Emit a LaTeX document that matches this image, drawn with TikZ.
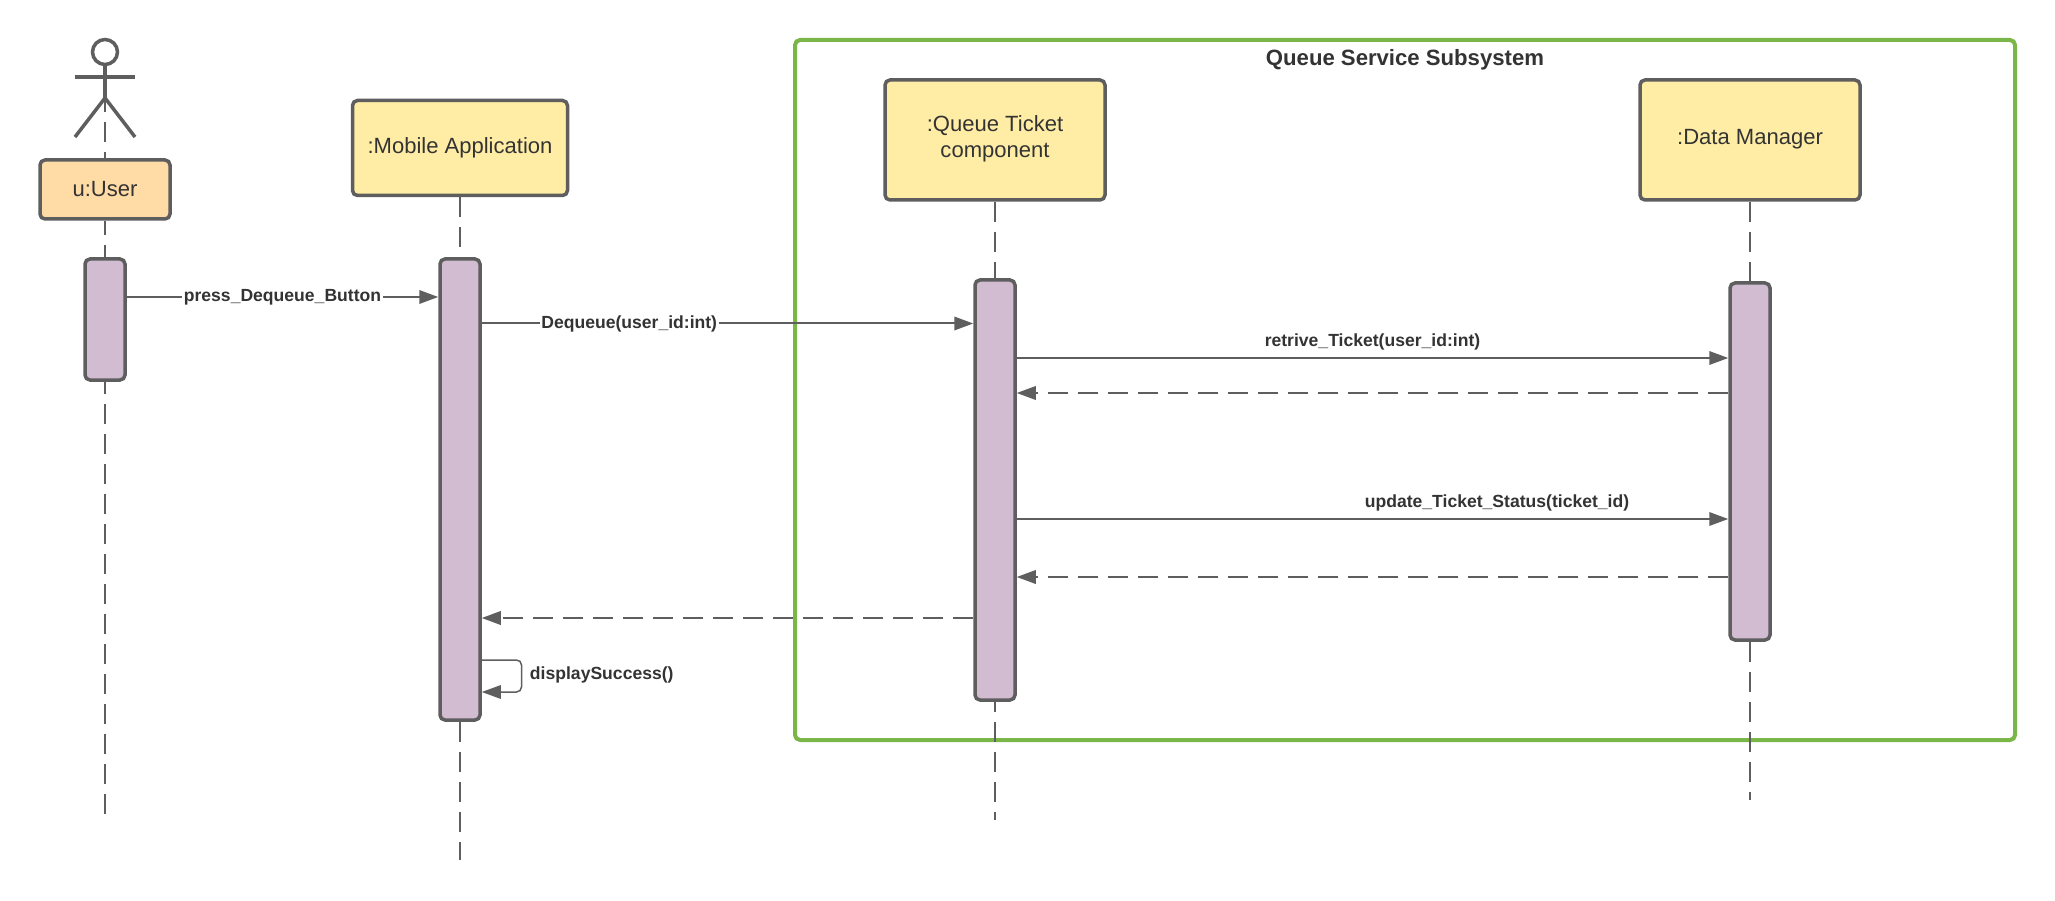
\documentclass[tikz,border=0pt]{standalone}
\usepackage{fontspec}
\setmainfont{Liberation Sans}
\usetikzlibrary{arrows.meta,positioning}
\definecolor{strokegrey}{HTML}{5E5E5E}
\definecolor{textgrey}{HTML}{333333}
\definecolor{framegreen}{HTML}{7AB648}
\definecolor{boxyellow}{HTML}{FFEDA6}
\definecolor{boxorange}{HTML}{FFDBA6}
\definecolor{barpurple}{HTML}{D1BCD2}
\tikzset{
	objbox/.style={draw=strokegrey, line width=0.035cm, rounded corners=0.05cm, fill=boxyellow, text=textgrey, font=\fontsize{6.27}{7.5}\selectfont, align=center, inner sep=0pt},
	bar/.style={draw=strokegrey, line width=0.035cm, rounded corners=0.05cm, fill=barpurple, minimum width=0.4cm, inner sep=0pt},
	lifeline/.style={draw=strokegrey, line width=0.02cm, dash pattern=on 0.2cm off 0.1cm},
	msg/.style={draw=strokegrey, line width=0.02cm, -{Triangle[length=0.19cm,width=0.135cm]}},
	reply/.style={msg, dash pattern=on 0.2cm off 0.1cm},
	msglabel/.style={font=\fontsize{5}{6}\selectfont\bfseries, text=textgrey, inner sep=0.5pt},
	actorline/.style={draw=strokegrey, line width=0.035cm}
}

\begin{document}
\begin{tikzpicture}
	%%%%% START %%%%%
	\useasboundingbox (0, 0) rectangle (20.55, 9);

	% subsystem frame
	\node[draw=framegreen, line width=0.04cm, rounded corners=0.05cm, minimum width=12.2cm, minimum height=7cm, inner sep=0pt] (subsystem) at (14.05, 5.1) {};
	\node[font=\fontsize{6.3}{7.5}\selectfont\bfseries, text=textgrey] (subsystemTitle) at (14.05, 8.4) {Queue Service Subsystem};

	% where the lifelines stop
	\coordinate (userEnd) at (1.05, 0.8);
	\coordinate (mobileEnd) at (4.6, 0.4);
	\coordinate (queueEnd) at (9.95, 0.8);
	\coordinate (dataEnd) at (17.5, 1);

	% actor
	\node[circle, draw=strokegrey, line width=0.035cm, minimum size=0.25cm, inner sep=0pt] (userHead) at (1.05, 8.48) {};
	\coordinate (userHip) at (1.05, 8.02);
	\coordinate (userArmL) at (0.75, 8.23);
	\coordinate (userArmR) at (1.35, 8.23);
	\coordinate (userFootL) at (0.75, 7.63);
	\coordinate (userFootR) at (1.35, 7.63);

	% boxes
	\node[objbox, fill=boxorange, minimum width=1.3cm, minimum height=0.59cm] (user) at (1.05, 7.105) {u:User};
	\node[objbox, minimum width=2.15cm, minimum height=0.95cm] (mobile) at (4.6, 7.52) {:Mobile Application};
	\node[objbox, text depth=0.07cm, minimum width=2.2cm, minimum height=1.2cm] (queue) at (9.95, 7.6) {:Queue Ticket\\component};
	\node[objbox, text depth=0.07cm, minimum width=2.2cm, minimum height=1.2cm] (data) at (17.5, 7.6) {:Data Manager};

	% activation bars
	\node[bar, minimum height=1.21cm] (userBar) at (1.05, 5.805) {};
	\node[bar, minimum height=4.61cm] (mobileBar) at (4.6, 4.105) {};
	\node[bar, minimum height=4.2cm] (queueBar) at (9.95, 4.1) {};
	\node[bar, minimum height=3.57cm] (dataBar) at (17.5, 4.385) {};

	% lifelines
	\draw[lifeline, dash phase=0.06cm] (userHip) -- (user.north);
	\draw[lifeline, dash phase=0.06cm] (user.south) -- (userBar.north);
	\draw[lifeline, dash phase=0.08cm] (userBar.south) -- (userEnd);
	\draw[lifeline] (mobile.south) -- (mobileBar.north);
	\draw[lifeline] (mobileBar.south) -- (mobileEnd);
	\draw[lifeline] (queue.south) -- (queueBar.north);
	\draw[lifeline, dash phase=0.1cm] (queueBar.south) -- (queueEnd);
	\draw[lifeline] (data.south) -- (dataBar.north);
	\draw[lifeline] (dataBar.south) -- (dataEnd);

	\draw[actorline] (userHead.south) -- (userHip);
	\draw[actorline] (userArmL) -- (userArmR);
	\draw[actorline] (userFootL) -- (userHip) -- (userFootR);

	% message rows
	\coordinate (pressRow) at (0, 6.03);
	\coordinate (dequeueRow) at (0, 5.765);
	\coordinate (retriveRow) at (0, 5.42);
	\coordinate (retriveBack) at (0, 5.07);
	\coordinate (updateRow) at (0, 3.81);
	\coordinate (updateBack) at (0, 3.23);
	\coordinate (dequeueBack) at (0, 2.82);
	\coordinate (selfTop) at (0, 2.4);
	\coordinate (selfBottom) at (0, 2.08);
	\coordinate (selfTurn) at (5.215, 0);

	\draw[msg] (userBar.east |- pressRow) -- node[msglabel, fill=white] (pressLabel) {press\_Dequeue\_Button} (mobileBar.west |- pressRow);
	\draw[msg] (mobileBar.east |- dequeueRow) -- node[msglabel, fill=white, pos=0.3] (dequeueLabel) {Dequeue(user\_id:int)} (queueBar.west |- dequeueRow);
	\draw[msg] (queueBar.east |- retriveRow) -- node[msglabel, above=0.05cm, pos=0.5] (retriveLabel) {retrive\_Ticket(user\_id:int)} (dataBar.west |- retriveRow);
	\draw[reply] (dataBar.west |- retriveBack) -- (queueBar.east |- retriveBack);
	\draw[msg] (queueBar.east |- updateRow) -- node[msglabel, above=0.05cm, pos=0.675] (updateLabel) {update\_Ticket\_Status(ticket\_id)} (dataBar.west |- updateRow);
	\draw[reply] (dataBar.west |- updateBack) -- (queueBar.east |- updateBack);
	\draw[reply] (queueBar.west |- dequeueBack) -- (mobileBar.east |- dequeueBack);

	\draw[msg, line width=0.015cm, rounded corners=0.05cm] (mobileBar.east |- selfTop) -- (selfTurn |- selfTop) -- (selfTurn |- selfBottom) -- (mobileBar.east |- selfBottom);
	\node[msglabel, anchor=west] (selfLabel) at (5.275, 2.25) {displaySuccess()};

	%%%%% END %%%%%
\end{tikzpicture}
\end{document}
